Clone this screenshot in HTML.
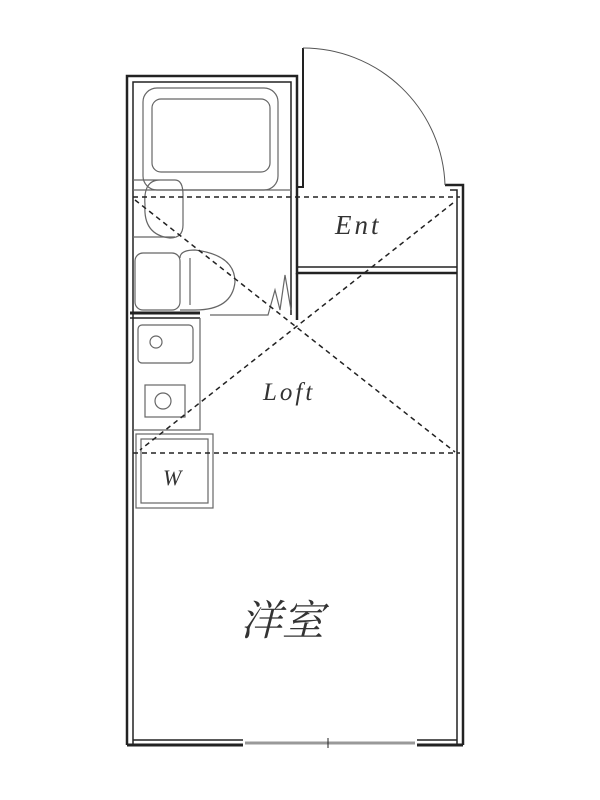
<!DOCTYPE html>
<html><head><meta charset="utf-8"><style>html,body{margin:0;padding:0;background:#fff;width:600px;height:800px;overflow:hidden}</style></head>
<body>
<svg width="600" height="800" viewBox="0 0 600 800" xmlns="http://www.w3.org/2000/svg">
<g fill="none" stroke="#222">
<path d="M127 745 V76 H297 V187" stroke-width="2.5"/>
<path d="M133 745 V82 H291 V315" stroke-width="1.5"/>
<path d="M297 187 H303 V48" stroke-width="2"/>
<path d="M445 185 H463 V745" stroke-width="2.5"/>
<path d="M450 190 H457 V745" stroke-width="1.5"/>
<path d="M303 48 A142 142 0 0 1 445 185" stroke-width="1" stroke="#555"/>
<path d="M297 187 V273 H457" stroke-width="2.5"/>
<path d="M297 267 H457" stroke-width="1.5"/>
<path d="M297 273 V320" stroke-width="2.5"/>
<path d="M130 313 H200" stroke-width="3"/>
<path d="M200 318 H130" stroke-width="1.5"/>
<path d="M127 745 H243 M417 745 H463" stroke-width="3"/>
<path d="M133 740 H243 M417 740 H457" stroke-width="1.5"/>
<path d="M245 743 H415" stroke="#999" stroke-width="3"/>
<path d="M328 738 V748" stroke-width="1"/>
<g stroke="#666" stroke-width="1.2">
<rect x="143" y="88" width="135" height="102" rx="14"/>
<rect x="152" y="99" width="118" height="73" rx="9"/>
<path d="M133 190 H291"/>
<path d="M133 180 H175 Q183 180 183 195 V225 Q183 238 170 238 Q143 235 145 205 Q143 180 160 180"/>
<path d="M133 237 H175"/>
<rect x="135" y="253" width="45" height="57" rx="8"/>
<path d="M180 258 Q180 250 195 250 Q235 255 235 282 Q232 310 195 310 H180"/>
<path d="M190 258 V305"/>
<path d="M210 315 H268 L275 290 L280 310 L285 275 L291 310"/>
<path d="M200 318 V430 H133"/>
<rect x="138" y="325" width="55" height="38" rx="4"/>
<circle cx="156" cy="342" r="6"/>
<rect x="145" y="385" width="40" height="32"/>
<circle cx="163" cy="401" r="8"/>
<rect x="136" y="434" width="77" height="74"/>
<rect x="141" y="439" width="67" height="64"/>
</g>
<g stroke="#222" stroke-width="1.5" stroke-dasharray="5,4">
<path d="M133 197 H460"/>
<path d="M133 453 H460"/>
<path d="M135 200 L455 452"/>
<path d="M453 203 L140 450"/>
</g>
</g>
<g font-family="Liberation Serif, serif" font-style="italic" fill="#333">
<text x="335" y="234" font-size="27" letter-spacing="3">Ent</text>
<text x="263" y="400" font-size="25" letter-spacing="3">Loft</text>
<text x="163" y="485" font-size="22">W</text>
<text x="240" y="635" font-size="42" font-family="Liberation Serif, 'Noto Serif CJK SC', serif">洋室</text>
</g>
</svg>
</body></html>
